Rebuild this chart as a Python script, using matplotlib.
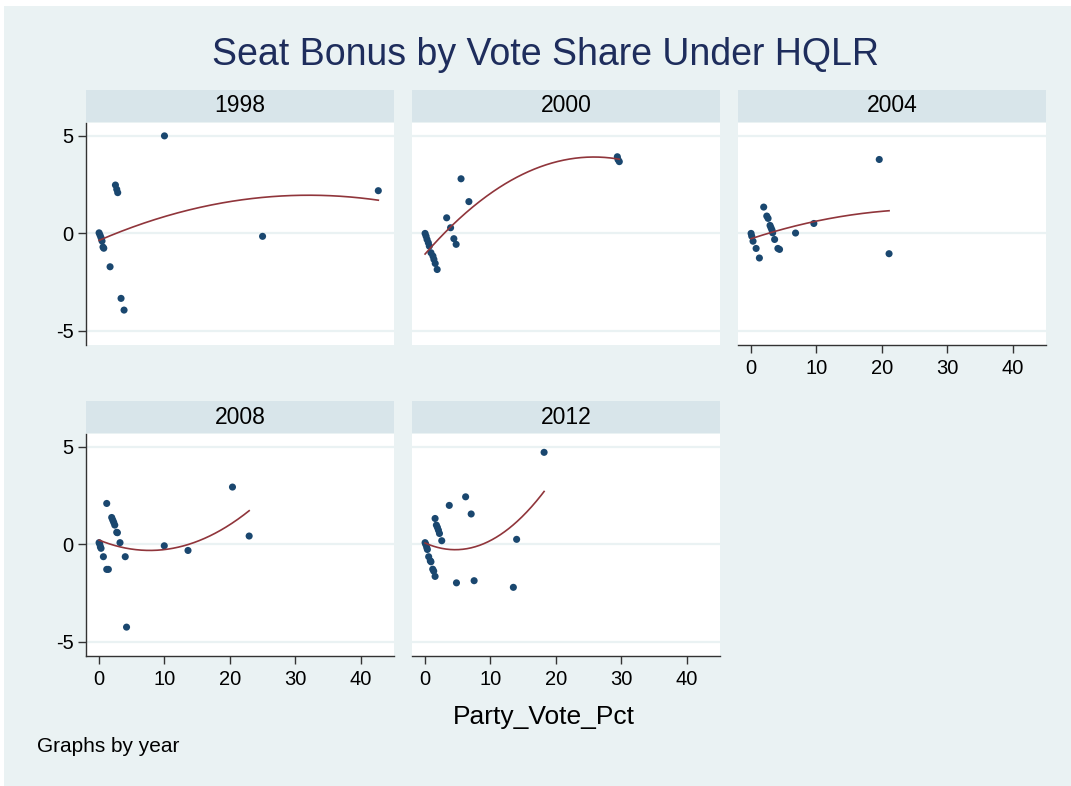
import numpy as np
import matplotlib
matplotlib.use("Agg")
import matplotlib.pyplot as plt
from matplotlib.patches import Rectangle

plt.rcParams['font.family'] = ['Liberation Sans', 'DejaVu Sans']
plt.rcParams['axes.unicode_minus'] = False

years = ['1998', '2000', '2004', '2008', '2012']

vote_1998 = [0.0, 0.15, 0.3, 0.45, 0.6, 0.72, 1.68, 2.5, 2.7, 2.85, 3.36, 3.82, 10.0, 25.0, 42.7]
bonus_1998 = [0.03, -0.09, -0.22, -0.39, -0.7, -0.76, -1.71, 2.48, 2.26, 2.09, -3.33, -3.93, 5.0, -0.15, 2.19]

vote_2000 = [0.0, 0.15, 0.3, 0.5, 0.65, 0.9, 1.2, 1.35, 1.55, 1.85, 3.3, 3.9, 4.4, 4.75, 5.5, 6.7, 29.4, 29.5, 29.7]
bonus_2000 = [0.0, -0.14, -0.31, -0.48, -0.65, -0.99, -1.16, -1.33, -1.54, -1.85, 0.8, 0.29, -0.27, -0.56, 2.8, 1.63, 3.93, 3.79, 3.68]

vote_2004 = [0.0, 0.1, 0.3, 0.77, 1.27, 1.93, 2.4, 2.6, 2.9, 3.05, 3.2, 3.3, 3.6, 4.1, 4.35, 6.8, 9.6, 19.6, 21.1]
bonus_2004 = [0.0, -0.14, -0.4, -0.77, -1.26, 1.35, 0.89, 0.77, 0.41, 0.29, 0.17, 0.03, -0.31, -0.77, -0.82, 0.02, 0.51, 3.79, -1.04]

vote_2008 = [0.0, 0.1, 0.2, 0.3, 0.66, 1.17, 1.17, 1.42, 1.93, 2.09, 2.24, 2.4, 2.7, 2.8, 3.2, 4.0, 4.2, 9.97, 13.6, 20.4, 22.95]
bonus_2008 = [0.09, 0.02, -0.12, -0.2, -0.63, 2.1, -1.28, -1.28, 1.38, 1.25, 1.13, 0.99, 0.62, 0.6, 0.09, -0.63, -4.24, -0.07, -0.31, 2.94, 0.43]

vote_2012 = [0.0, 0.1, 0.25, 0.35, 0.55, 0.8, 0.9, 1.17, 1.32, 1.53, 1.53, 1.73, 1.89, 2.04, 2.2, 2.55, 3.7, 4.8, 6.2, 7.05, 7.5, 13.5, 14.0, 18.2]
bonus_2012 = [0.09, 0.0, -0.15, -0.26, -0.63, -0.84, -0.89, -1.27, -1.37, -1.64, 1.33, 0.99, 0.87, 0.73, 0.56, 0.19, 2.0, -1.97, 2.44, 1.56, -1.86, -2.2, 0.26, 4.72]

x_ticks = [0, 10, 20, 30, 40]
y_ticks = [-5, 0, 5]

panels = [
    (vote_1998, bonus_1998),
    (vote_2000, bonus_2000),
    (vote_2004, bonus_2004),
    (vote_2008, bonus_2008),
    (vote_2012, bonus_2012),
]

BG = '#EAF2F3'
STRIP = '#D8E5EA'
NAVY = '#1A476F'
MAROON = '#90353B'
W, H = 1071, 786

fig = plt.figure(figsize=(W / 100, H / 100), dpi=100, facecolor='white')


def frac(left, top, width, height):
    return [left / W, 1 - (top + height) / H, width / W, height / H]


# light graph region, with a thin white margin at the top and left
fig.patches.append(Rectangle((4 / W, 0), 1, 1 - 6 / H, transform=fig.transFigure,
                             facecolor=BG, edgecolor='none', zorder=-10))

col_left = [86, 412, 738]
row_top = [123, 434]
plot_w, plot_h = 308, 222
strip_h = 32

for i, (xs, ys) in enumerate(panels):
    r, c = divmod(i, 3)
    left, top = col_left[c], row_top[r]

    # year strip above each panel
    fig.patches.append(Rectangle((left / W, 1 - (top - 1) / H), plot_w / W, strip_h / H,
                                 transform=fig.transFigure, facecolor=STRIP,
                                 edgecolor='none', zorder=-5))
    fig.text((left + plot_w / 2) / W, 1 - (top - 1 - strip_h / 2) / H, years[i],
             ha='center', va='center', fontsize=16.5, color='black')

    ax = fig.add_axes(frac(left, top, plot_w, plot_h))
    ax.set_facecolor('white')
    ax.set_xlim(-2.0, 45.1)
    ax.set_ylim(-5.72, 5.66)
    ax.set_yticks(y_ticks)
    ax.set_xticks(x_ticks)
    ax.grid(axis='y', color=BG, linewidth=1.6)
    ax.set_axisbelow(True)

    ax.scatter(xs, ys, s=26, color=NAVY, edgecolors='none', zorder=3)

    # quadratic fit over the observed range
    coef = np.polyfit(xs, ys, 2)
    xf = np.linspace(min(xs), max(xs), 200)
    ax.plot(xf, np.polyval(coef, xf), color=MAROON, linewidth=1.2, zorder=4)

    for s in ax.spines.values():
        s.set_visible(False)

    show_y = c == 0
    show_x = (r == 1) or (c == 2)
    if show_y:
        ax.spines['left'].set_visible(True)
        ax.spines['left'].set_color('#333333')
        ax.spines['left'].set_linewidth(1.0)
    if show_x:
        ax.spines['bottom'].set_visible(True)
        ax.spines['bottom'].set_color('#333333')
        ax.spines['bottom'].set_linewidth(1.0)

    ax.tick_params(axis='y', left=show_y, labelleft=show_y, length=6, width=1.0,
                   color='#333333', labelsize=14.5, pad=3)
    ax.tick_params(axis='x', bottom=show_x, labelbottom=show_x, length=6, width=1.0,
                   color='#333333', labelsize=14.5, pad=4)

fig.text(545 / W, 1 - 55 / H, 'Seat Bonus by Vote Share Under HQLR',
         ha='center', va='center', fontsize=27, color='#1E2D5C')
fig.text(544 / W, 1 - 717 / H, 'Party_Vote_Pct', ha='center', va='center',
         fontsize=19, color='black')
fig.text(37 / W, 1 - 747 / H, 'Graphs by year', ha='left', va='center',
         fontsize=15, color='black')

fig.savefig('out.png', dpi=100, facecolor=fig.get_facecolor())
